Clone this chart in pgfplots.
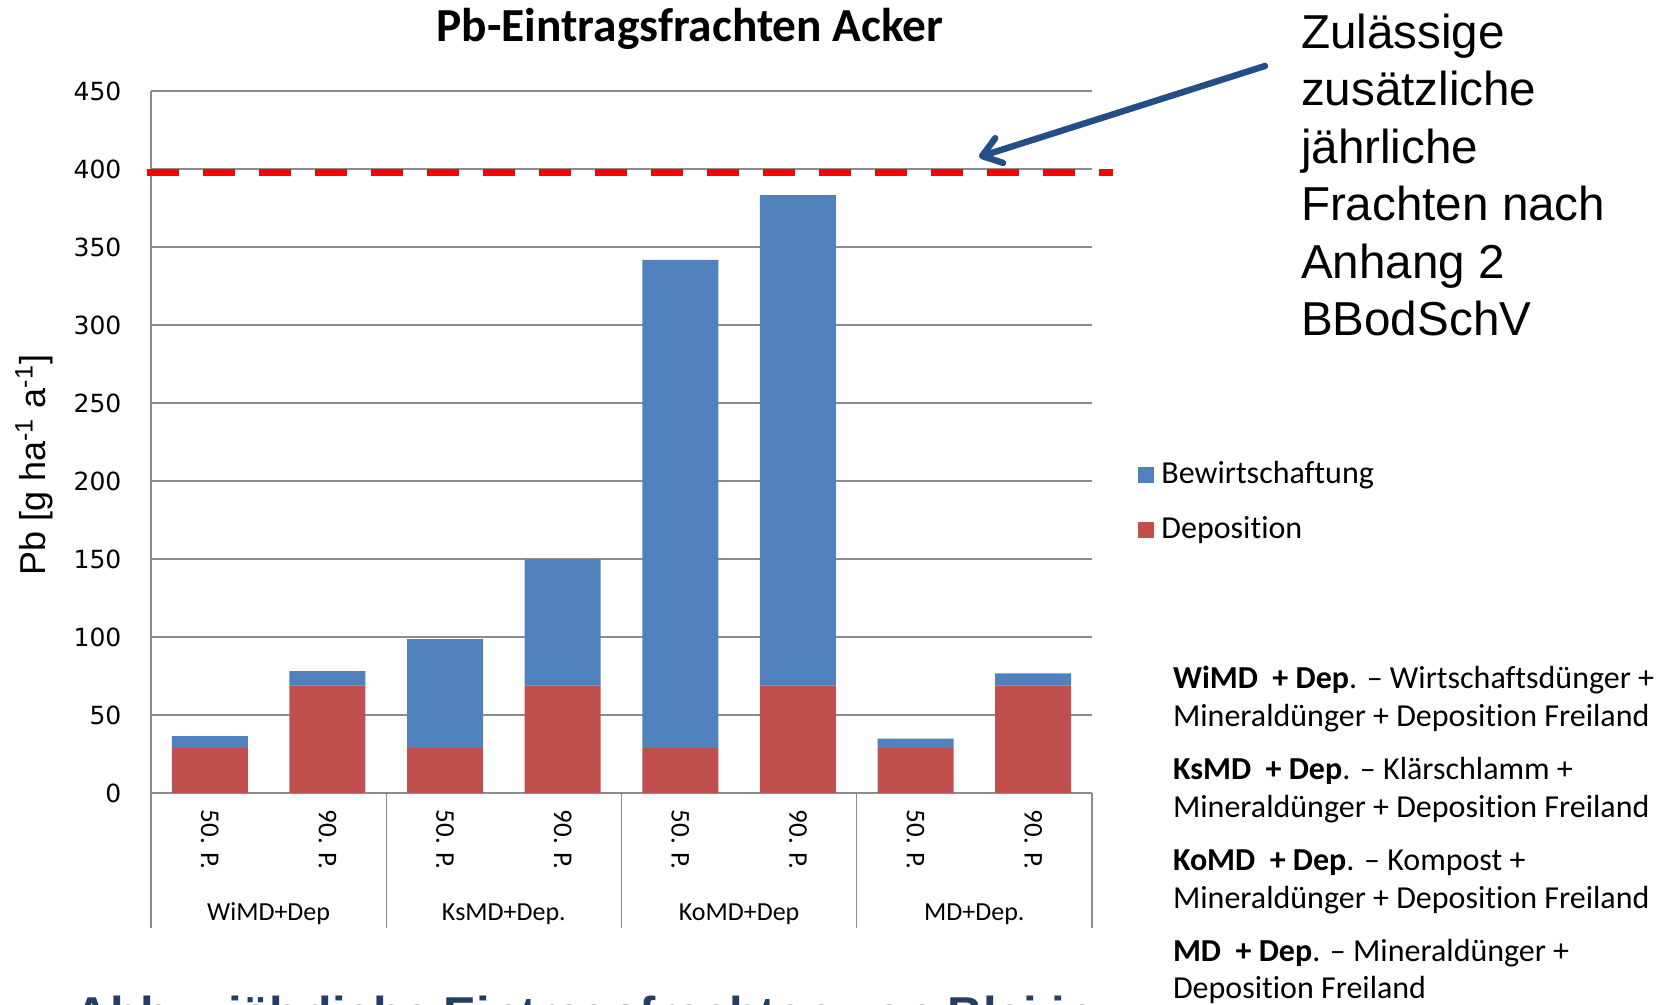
\documentclass[border=0pt]{standalone}
\usepackage{pgfplots}
\pgfplotsset{compat=1.18}
\usepackage{pgfplotstable}
\usepackage{fontspec}
\setmainfont{Carlito}[Ligatures=NoCommon]
\newfontfamily\arial{Liberation Sans}
\newfontfamily\dejavu{DejaVu Sans}
\usetikzlibrary{arrows.meta}
\definecolor{barblue}{HTML}{4F81BD}
\definecolor{barred}{HTML}{C0504D}
\definecolor{gridgray}{HTML}{8C8C8C}
\definecolor{arrowblue}{HTML}{254E86}
\definecolor{navy}{HTML}{243F60}
\pgfplotsset{sqlegend/.style={legend image code/.code={\fill[##1] (0pt,-4pt) rectangle (8pt,4pt);}}}

\pgfplotstableread{
x dep bew
0 28.7 7.7
1 68.8 9.4
2 28.7 69.9
3 68.8 81.0
4 28.7 313.0
5 68.8 314.5
6 28.7 6.2
7 68.8 7.9
}\datatable

\begin{document}
\begin{tikzpicture}
\useasboundingbox (0,0) rectangle (829pt,502.5pt);
\begin{axis}[
  at={(75.5pt,106pt)}, anchor=south west,
  scale only axis, width=470.5pt, height=351pt,
  ybar stacked, bar width=38pt,
  xmin=-0.5, xmax=7.5, ymin=0, ymax=450,
  xtick={0,...,7},
  xticklabels={50. P.,90. P.,50. P.,90. P.,50. P.,90. P.,50. P.,90. P.},
  ytick={0,50,...,450},
  axis lines*=left,
  axis line style={-, draw=gridgray, line width=0.7pt},
  ymajorgrids, grid style={gridgray, line width=0.7pt},
  major tick length=0pt,
  clip=false,
  /pgf/number format/assume math mode=true,
  yticklabel style={font=\dejavu\fontsize{12.5}{15}\selectfont, anchor=east, inner sep=0pt, xshift=-14.6pt},
  xticklabel style={font=\fontsize{13.5}{15}\selectfont, inner sep=0pt, yshift=-8.3pt, rotate=-90, anchor=west},
  ylabel={Pb [g ha\textsuperscript{-1} a\textsuperscript{-1}]},
  ylabel style={font=\arial\fontsize{18}{21}\selectfont, at={(axis description cs:-0.1243,0.467)}, anchor=center},
  reverse legend,
  legend cell align=left,
  legend style={at={(axis description cs:1.0489,0.4758)}, anchor=north west, draw=none, fill=none, inner sep=0pt,
    font=\fontsize{16}{19}\selectfont, row sep=11.5pt, column sep=3.5pt,
    nodes={inner sep=0pt, text height=12pt, text depth=4pt, anchor=west}},
]
\addplot[fill=barred, draw=none, sqlegend] table[x=x,y=dep]{\datatable};
\addplot[fill=barblue, draw=none, sqlegend] table[x=x,y=bew]{\datatable};
\legend{Deposition, Bewirtschaftung}
\pgfplotsinvokeforeach{-0.5,1.5,3.5,5.5,7.5}{\draw[gridgray, line width=0.7pt] (axis cs:#1,0) -- ++(0pt,-67.5pt);}
\node[anchor=base, yshift=-64pt, font=\fontsize{13}{15}\selectfont] at (axis cs:0.5,0) {WiMD+Dep};
\node[anchor=base, yshift=-64pt, font=\fontsize{13}{15}\selectfont] at (axis cs:2.5,0) {KsMD+Dep.};
\node[anchor=base, yshift=-64pt, font=\fontsize{13}{15}\selectfont] at (axis cs:4.5,0) {KoMD+Dep};
\node[anchor=base, yshift=-64pt, font=\fontsize{13}{15}\selectfont] at (axis cs:6.5,0) {MD+Dep.};
\end{axis}
\begin{axis}[
  at={(75.5pt,106pt)}, anchor=south west,
  scale only axis, width=470.5pt, height=351pt,
  xmin=-0.5, xmax=7.5, ymin=0, ymax=450,
  hide axis, clip=false]
\addplot[red, line width=3.5pt, dash pattern=on 16pt off 12pt, mark=none] coordinates {(-0.534,397.8) (7.678,397.8)};
\end{axis}
% title
\node[anchor=base, inner sep=0pt, font=\bfseries\fontsize{23.7}{28}\selectfont] at (345pt,481.5pt) {Pb-Eintragsfrachten Acker};
% arrow
\draw[arrowblue, line width=3.2pt, line cap=round, -{Straight Barb[length=9pt,width=13pt,round]}] (632.5pt,469.5pt) -- (489.5pt,424pt);
% annotation
\begin{scope}[every node/.style={anchor=base west, inner sep=0pt, font=\arial\fontsize{23.8}{28}\selectfont}]
\node at (650.3pt,478.25pt) {Zulässige};
\node at (650.3pt,449.5pt) {zusätzliche};
\node at (650.3pt,420.75pt) {jährliche};
\node at (650.3pt,392pt) {Frachten nach};
\node at (650.3pt,363.25pt) {Anhang 2};
\node at (650.3pt,334.5pt) {BBodSchV};
\end{scope}
% notes
\begin{scope}[every node/.style={anchor=base west, inner sep=0pt, font=\fontsize{16}{19}\selectfont}]
\node at (586.3pt,158pt) {\textbf{WiMD\ \ + Dep}. – Wirtschaftsdünger +};
\node at (586.3pt,139pt) {Mineraldünger + Deposition Freiland};
\node at (586.3pt,112.5pt) {\textbf{KsMD\ \ + Dep}. – Klärschlamm +};
\node at (586.3pt,93.5pt) {Mineraldünger + Deposition Freiland};
\node at (586.3pt,67pt) {\textbf{KoMD\ \ + Dep}. – Kompost +};
\node at (586.3pt,48pt) {Mineraldünger + Deposition Freiland};
\node at (586.3pt,21.5pt) {\textbf{MD\ \ + Dep}. – Mineraldünger +};
\node at (586.3pt,3pt) {Deposition Freiland};
\end{scope}
% cut-off caption at the bottom
\begin{scope}
\clip (0,0) rectangle (829pt,502.5pt);
\node[anchor=base west, inner sep=0pt, text=navy, font=\arial\bfseries\fontsize{24.5}{29}\selectfont] at (37.2pt,-13.5pt) {Abb.:\hspace{14.4pt}jährliche Eintragsfrachten von Blei in};
\end{scope}
\end{tikzpicture}
\end{document}
